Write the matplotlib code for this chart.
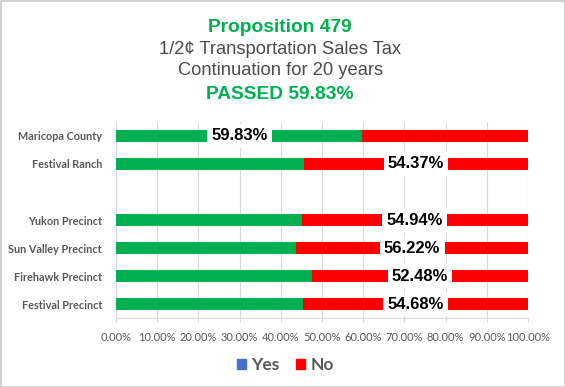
import numpy as np
import matplotlib.pyplot as plt
from matplotlib.patches import Patch, Rectangle
from matplotlib.ticker import FuncFormatter

categories = ["Maricopa County", "Festival Ranch", "", "Yukon Precinct",
              "Sun Valley Precinct", "Firehawk Precinct", "Festival Precinct"]
yes = [59.83, 45.63, 0, 45.06, 43.78, 47.52, 45.32]
no = [40.17, 54.37, 0, 54.94, 56.22, 52.48, 54.68]
# which segment gets the label on each row
label_on = ["yes", "no", None, "no", "no", "no", "no"]

green = "#00B050"
red = "#FF0000"
gray = "#595959"

fig = plt.figure(figsize=(5.65, 3.87), dpi=100)
fig.patches.append(Rectangle((0, 0), 1, 1, transform=fig.transFigure,
                             fill=False, edgecolor="#D0D0D0", linewidth=2))
ax = fig.add_axes([0.2053, 0.178, 0.7292, 0.507])

y = np.arange(len(categories))
ax.barh(y, yes, height=0.4, color=green, zorder=2)
ax.barh(y, no, left=yes, height=0.4, color=red, zorder=2)

for i, where in enumerate(label_on):
    if where is None:
        continue
    xc = yes[i] / 2 if where == "yes" else yes[i] + no[i] / 2
    val = yes[i] if where == "yes" else no[i]
    ax.text(xc, y[i], f"{val:.2f}%", ha="center", va="center",
            fontsize=12, fontweight="bold", family="Liberation Sans", zorder=3,
            bbox=dict(facecolor="white", edgecolor="none", pad=3))

ax.set_xlim(0, 100)
ax.set_ylim(len(categories) - 0.5, -0.5)
ax.set_xticks(np.arange(0, 101, 10))
ax.xaxis.set_major_formatter(FuncFormatter(lambda v, p: f"{v:.2f}%"))
ax.set_yticks(y)
ax.set_yticklabels(categories, fontsize=7.8, fontweight="bold", color=gray, family="Lato")
ax.tick_params(axis="y", length=0, pad=10)
ax.tick_params(axis="x", length=3, color="#D9D9D9", labelsize=8, labelcolor=gray, pad=7)
for lab in ax.get_xticklabels():
    lab.set_family("Lato")
ax.grid(axis="x", color="#D9D9D9", linewidth=0.8, zorder=0)
for s in ["top", "right", "left"]:
    ax.spines[s].set_visible(False)
ax.spines["bottom"].set_color("#D9D9D9")

fig.text(0.496, 0.93, "Proposition 479", ha="center", va="center", color=green,
         fontsize=13.8, fontweight="bold", family="Liberation Sans")
fig.text(0.496, 0.872, "1/2¢ Transportation Sales Tax", ha="center", va="center",
         color="#4D4D4D", fontsize=13.2, family="Liberation Sans")
fig.text(0.496, 0.818, "Continuation for 20 years", ha="center", va="center",
         color="#4D4D4D", fontsize=13.2, family="Liberation Sans")
fig.text(0.496, 0.757, "PASSED 59.83%", ha="center", va="center", color=green,
         fontsize=13.8, fontweight="bold", family="Liberation Sans")

handles = [Patch(color="#4472C4", label="Yes"), Patch(color=red, label="No")]
leg = fig.legend(handles=handles, loc="center", bbox_to_anchor=(0.505, 0.056), ncol=2,
                 frameon=False, handlelength=0.5, handleheight=0.5, handletextpad=0.3,
                 columnspacing=1.0, prop=dict(family="Lato", weight="bold", size=12.5))
for t in leg.get_texts():
    t.set_color(gray)

fig.savefig("out.png", dpi=100)
